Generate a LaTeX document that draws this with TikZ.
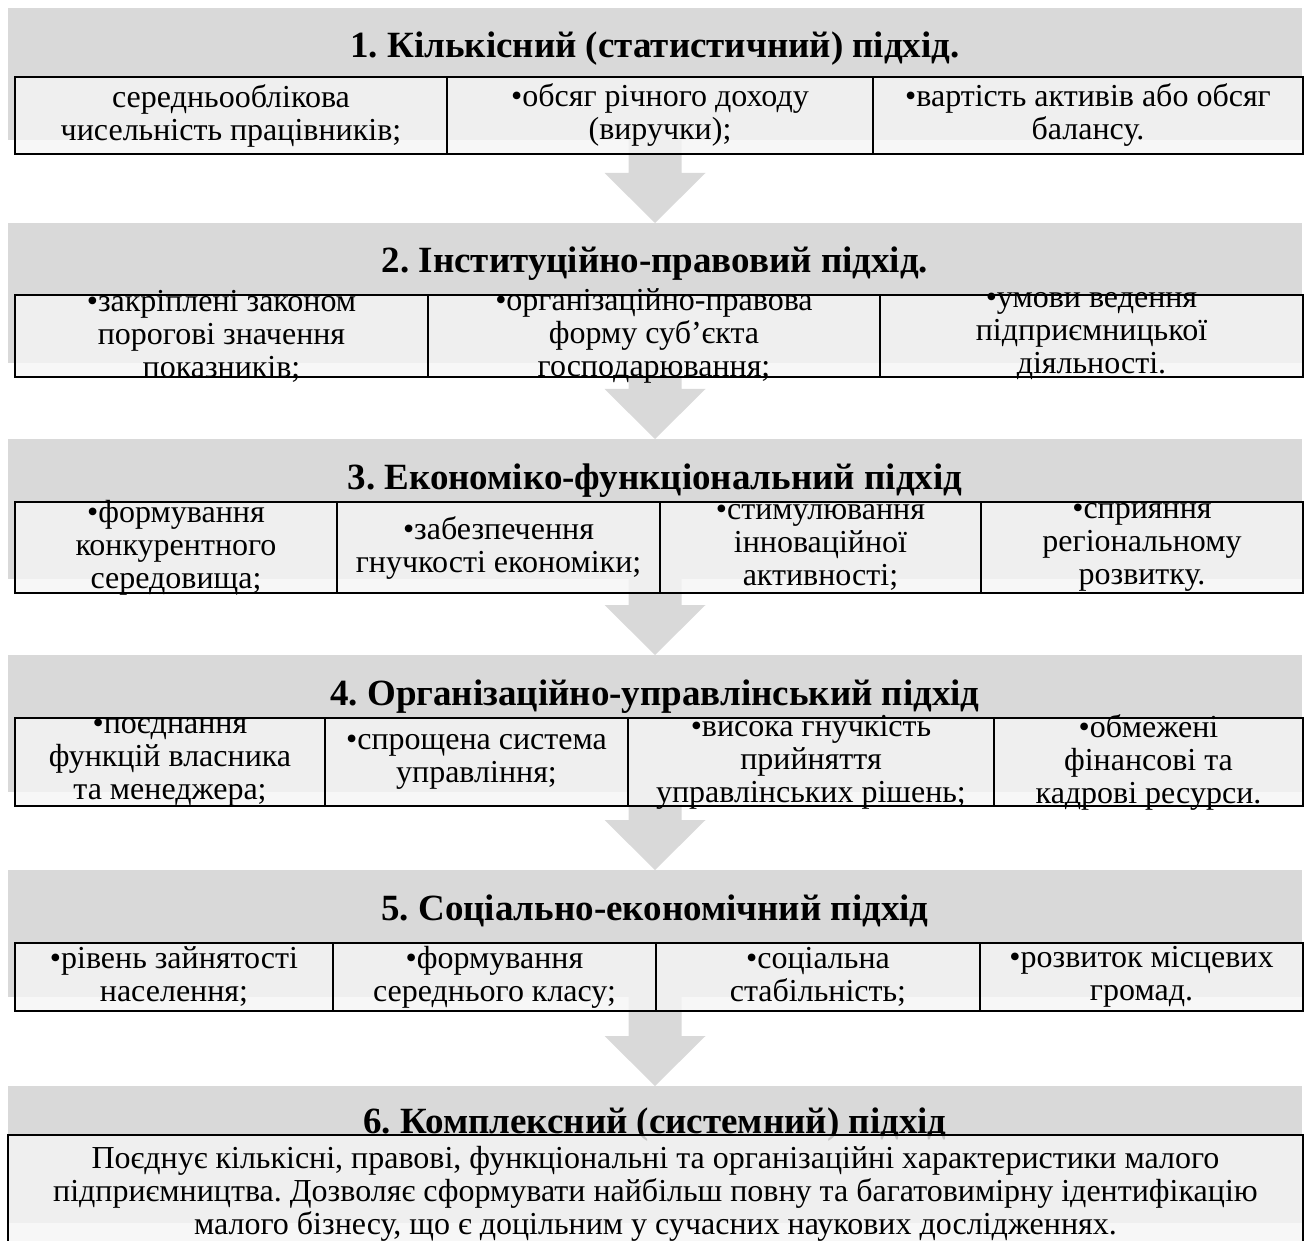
\documentclass[tikz,border=0pt]{standalone}
\usepackage{fontspec}
\setmainfont{Liberation Serif}
\usetikzlibrary{calc}

\definecolor{bandgray}{RGB}{217,217,217}
\definecolor{cellgray}{RGB}{245,245,245}

\tikzset{every picture/.style={line width=1.2pt}}
\tikzset{
  band/.style={fill=bandgray, draw=none, inner sep=0pt, outer sep=0pt, anchor=north west, minimum width=647pt},
  cellbox/.style={draw=black, fill=cellgray, fill opacity=0.8},
  heading/.style={anchor=base, inner sep=0pt, font=\fontsize{18.5}{21}\selectfont\bfseries},
  celltext/.style={align=center, inner sep=0pt, font=\fontsize{16}{16.5}\selectfont}
}

\begin{document}
\frenchspacing
\begin{tikzpicture}[x=0.5pt,y=0.5pt,yscale=-1, xscale=1]
\useasboundingbox (0,0) rectangle (1308,1241);

%Shape: Bands
\node (b1) [band, minimum height=66pt] at (8,8) {};
\node (b2) [band, minimum height=70pt] at (8,223) {};
\node (b3) [band, minimum height=70pt] at (8,439) {};
\node (b4) [band, minimum height=68.5pt] at (8,655) {};
\node (b5) [band, minimum height=63.5pt] at (8,870) {};
\node (b6) [band, minimum height=68.5pt] at (8,1086) {};

%Shape: Down Arrows
\foreach \i/\j in {1/2,2/3,3/4,4/5,5/6}
  \fill [bandgray] ($(b\i.south)+(-26.5,0)$) -- ($(b\i.south)+(26.5,0)$) -- ($(b\j.north)+(26.5,-50)$) -- ($(b\j.north)+(50.5,-50)$) -- (b\j.north) -- ($(b\j.north)+(-50.5,-50)$) -- ($(b\j.north)+(-26.5,-50)$) -- cycle ;

% Text Node
\draw (655,58) node (t1) [heading] {1. Кількісний (статистичний) підхід.};
% Text Node
\draw (655,273) node (t2) [heading] {2. Інституційно-правовий підхід.};
% Text Node
\draw (655,489) node (t3) [heading] {3. Економіко-функціональний підхід};
% Text Node
\draw (655,705) node (t4) [heading] {4. Організаційно-управлінський підхід};
% Text Node
\draw (655,920) node (t5) [heading] {5. Соціально-економічний підхід};
% Text Node
\draw (655,1133) node (t6) [heading] {6. Комплексний (системний) підхід};

%Shape: Rectangle
\draw [cellbox] (15,77) rectangle (447,154) ;
\draw [cellbox] (447,77) rectangle (873,154) ;
\draw [cellbox] (873,77) rectangle (1303,154) ;
%Shape: Rectangle
\draw [cellbox] (15,295) rectangle (428,377) ;
\draw [cellbox] (428,295) rectangle (880,377) ;
\draw [cellbox] (880,295) rectangle (1303,377) ;
%Shape: Rectangle
\draw [cellbox] (15,502) rectangle (337,593) ;
\draw [cellbox] (337,502) rectangle (660,593) ;
\draw [cellbox] (660,502) rectangle (981,593) ;
\draw [cellbox] (981,502) rectangle (1303,593) ;
%Shape: Rectangle
\draw [cellbox] (15,718) rectangle (325,806) ;
\draw [cellbox] (325,718) rectangle (628,806) ;
\draw [cellbox] (628,718) rectangle (994,806) ;
\draw [cellbox] (994,718) rectangle (1303,806) ;
%Shape: Rectangle
\draw [cellbox] (15,943) rectangle (333,1011) ;
\draw [cellbox] (333,943) rectangle (656,1011) ;
\draw [cellbox] (656,943) rectangle (980,1011) ;
\draw [cellbox] (980,943) rectangle (1303,1011) ;
%Shape: Rectangle
\draw [cellbox] (8,1135) rectangle (1303,1244) ;

% Text Node
\draw (231,115.5) node (c11) [celltext] {середньооблікова\\чисельність працівників;};
\draw (660,115.5) node (c12) [celltext] {•обсяг річного доходу\\(виручки);};
\draw (1088,115.5) node (c13) [celltext] {•вартість активів або обсяг\\балансу.};
% Text Node
\draw (221.5,336) node (c21) [celltext] {•закріплені законом\\порогові значення\\показників;};
\draw (654,336) node (c22) [celltext] {•організаційно-правова\\форму суб’єкта\\господарювання;};
\draw (1091.5,336) node (c23) [celltext] {•умови ведення\\підприємницької\\діяльності.};
% Text Node
\draw (176,547.5) node (c31) [celltext] {•формування\\конкурентного\\середовища;};
\draw (498.5,547.5) node (c32) [celltext] {•забезпечення\\гнучкості економіки;};
\draw (820.5,547.5) node (c33) [celltext] {•стимулювання\\інноваційної\\активності;};
\draw (1142,547.5) node (c34) [celltext] {•сприяння\\регіональному\\розвитку.};
% Text Node
\draw (170,762) node (c41) [celltext] {•поєднання\\функцій власника\\та менеджера;};
\draw (476.5,762) node (c42) [celltext] {•спрощена система\\управління;};
\draw (811,762) node (c43) [celltext] {•висока гнучкість\\прийняття\\управлінських рішень;};
\draw (1148.5,762) node (c44) [celltext] {•обмежені\\фінансові та\\кадрові ресурси.};
% Text Node
\draw (174,977) node (c51) [celltext] {•рівень зайнятості\\населення;};
\draw (494.5,977) node (c52) [celltext] {•формування\\середнього класу;};
\draw (818,977) node (c53) [celltext] {•соціальна\\стабільність;};
\draw (1141.5,977) node (c54) [celltext] {•розвиток місцевих\\громад.};
% Text Node
\draw (655.5,1194) node (c61) [celltext] {Поєднує кількісні, правові, функціональні та організаційні характеристики малого\\підприємництва. Дозволяє сформувати найбільш повну та багатовимірну ідентифікацію\\малого бізнесу, що є доцільним у сучасних наукових дослідженнях.};
\end{tikzpicture}
\end{document}
